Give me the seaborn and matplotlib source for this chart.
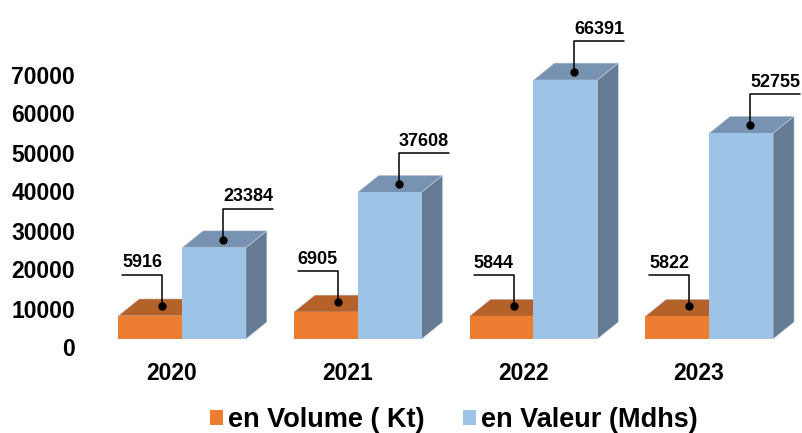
import matplotlib
matplotlib.use("Agg")
import matplotlib.pyplot as plt
from matplotlib.patches import Polygon
import numpy as np
import pandas as pd
import seaborn as sns

# Data
years = ["2020", "2021", "2022", "2023"]
volume_kt = [5916, 6905, 5844, 5822]
valeur_mdhs = [23384, 37608, 66391, 52755]
series_names = ["en Volume ( Kt)", "en Valeur (Mdhs)"]
y_ticks = [0, 10000, 20000, 30000, 40000, 50000, 60000, 70000]

df = pd.DataFrame({
    "year": years * 2,
    "value": volume_kt + valeur_mdhs,
    "series": [series_names[0]] * 4 + [series_names[1]] * 4,
})

front_colors = {series_names[0]: "#ED7D31", series_names[1]: "#9DC3E6"}
top_colors = {series_names[0]: "#B5622A", series_names[1]: "#7893B2"}
side_colors = {series_names[0]: "#A5581F", series_names[1]: "#657C94"}

sns.set_style("white")
plt.rcParams["font.family"] = ["Liberation Sans", "DejaVu Sans"]
plt.rcParams["text.color"] = "black"

W, H = 803, 433
fig = plt.figure(figsize=(W / 100, H / 100), dpi=100)
# axes from px x=80 to 803, y baseline at px 339 to top
ax = fig.add_axes([80 / W, (H - 339) / H, 1 - 80 / W, 339 / H])

sns.barplot(data=df, x="year", y="value", hue="series", palette=front_colors,
            width=0.727, dodge=True, ax=ax, legend=True, saturation=1,
            edgecolor="none", linewidth=0, zorder=2)

ax.set_xlim(-0.5805, 3.534)
ax.set_ylim(0, 339 / 39 * 10000)
for s in ax.spines.values():
    s.set_visible(False)
ax.set_xlabel("")
ax.set_ylabel("")
ax.set_yticks(y_ticks)
ax.set_yticklabels([])
ax.tick_params(axis="both", length=0)
ax.set_xticks([])

fig.canvas.draw()
to_px = ax.transData
to_data = ax.transData.inverted()

DX, DY = 21, 17  # depth offset in pixels


def px2data(pts):
    return to_data.transform(np.array(pts))


bars = [p for p in ax.patches if p.get_height() > 0]
for bar, (sname, val) in zip(bars, zip(df["series"], df["value"])):
    x0, w = bar.get_x(), bar.get_width()
    (px0, py0), (px1, py1) = to_px.transform([(x0, 0), (x0 + w, val)])
    top = px2data([(px0, py1), (px0 + DX, py1 + DY), (px1 + DX, py1 + DY), (px1, py1)])
    side = px2data([(px1, py0), (px1 + DX, py0 + DY), (px1 + DX, py1 + DY), (px1, py1)])
    ax.add_patch(Polygon(top, closed=True, facecolor=top_colors[sname],
                         edgecolor="#c9d3dd", linewidth=0.4, zorder=1))
    ax.add_patch(Polygon(side, closed=True, facecolor=side_colors[sname],
                         edgecolor="#c9d3dd", linewidth=0.4, zorder=1))

    # callout: dot on top face, vertical line then horizontal under the label
    cx = (px0 + px1) / 2
    if sname == series_names[1]:
        dot = (cx + 9, py1 + 8)
        knee = (dot[0], dot[1] + 31)
        end = (knee[0] + 50, knee[1])
        tx = knee[0]
    else:
        dot = (cx + 12, py1 + 10)
        knee = (dot[0], dot[1] + 31)
        end = (knee[0] - 40, knee[1])
        tx = end[0]
    line = px2data([dot, knee, end])
    ax.plot(line[:, 0], line[:, 1], color="black", linewidth=1.1, zorder=5,
            clip_on=False)
    d = px2data([dot])[0]
    ax.plot(d[0], d[1], "o", color="black", markersize=5, zorder=6, clip_on=False)
    t = px2data([(tx, knee[1] + 12)])[0]
    ax.text(t[0], t[1], f"{val}", ha="left", va="center", fontsize=13,
            fontweight="bold", color="black", zorder=6, clip_on=False)

# y tick labels, sitting a bit below the front baseline
for v in y_ticks:
    px = to_px.transform([(0, v)])[0]
    yfig = (px[1] - 11) / H
    fig.text(75 / W, yfig, f"{v}", ha="right", va="center", fontsize=16.5,
             fontweight="bold", color="black")

# year labels
for i, yr in enumerate(years):
    px = to_px.transform([(i, 0)])[0]
    fig.text((px[0] - 10) / W, (H - 373) / H, yr, ha="center", va="center",
             fontsize=16.5, fontweight="bold", color="black")

handles, labels = ax.get_legend_handles_labels()
leg = ax.legend(handles, labels, loc="center", bbox_to_anchor=(454 / W, (H - 420) / H),
                bbox_transform=fig.transFigure, ncol=2, frameon=False,
                prop={"size": 19.5, "weight": "bold"}, handlelength=0.48,
                handleheight=0.48, handletextpad=0.2, columnspacing=1.4)
for txt in leg.get_texts():
    txt.set_color("black")

fig.savefig("out.png", dpi=100)
